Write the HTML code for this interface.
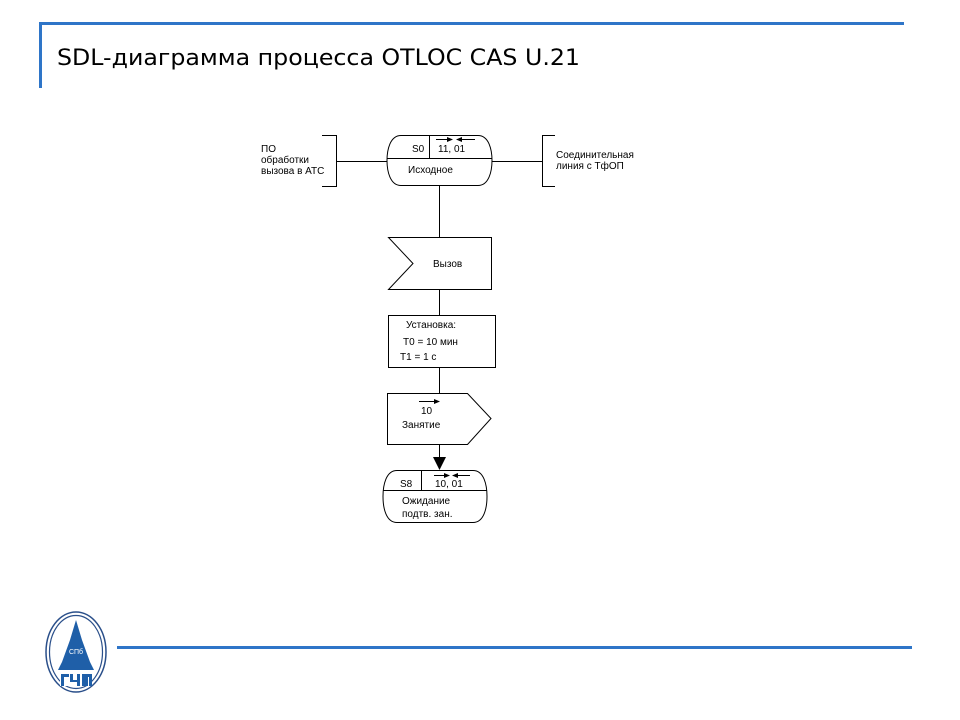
<!DOCTYPE html>
<html><head><meta charset="utf-8">
<style>
html,body{margin:0;padding:0;background:#fff;}
svg{display:block;}
text{font-family:"Liberation Sans","DejaVu Sans",sans-serif;fill:#000;}
</style></head>
<body>
<svg width="960" height="720" viewBox="0 0 960 720" xmlns="http://www.w3.org/2000/svg">
<rect width="960" height="720" fill="#fff"/>
<!-- header frame -->
<line x1="39" y1="23.5" x2="904" y2="23.5" stroke="#2e75c8" stroke-width="3"/>
<line x1="40.5" y1="22" x2="40.5" y2="88" stroke="#2e75c8" stroke-width="3"/>
<text x="57" y="65" font-size="22" textLength="523" lengthAdjust="spacingAndGlyphs" style="font-family:'DejaVu Sans','Liberation Sans',sans-serif">SDL-диаграмма процесса OTLOC CAS U.21</text>

<!-- bottom line -->
<line x1="117" y1="647.5" x2="912" y2="647.5" stroke="#2e75c8" stroke-width="3"/>

<!-- logo -->
<g>
<ellipse cx="76" cy="652" rx="30" ry="40" fill="#fff" stroke="#2a4f8a" stroke-width="1.5"/>
<ellipse cx="76" cy="652" rx="26.5" ry="36.5" fill="none" stroke="#2a4f8a" stroke-width="1.2"/>
<path d="M76 620 L70 640 L62 662 L58 670 L94 670 L90 662 L82 640 Z" fill="#1f5fa8"/>
<text x="76" y="654" font-size="7" text-anchor="middle" style="fill:#fff">СПб</text>
<rect x="60" y="672" width="32" height="14" fill="#fff"/>
<path d="M61 674 h8 v3 h-5 v9 h-3 Z M70 674 h3 v6 h4 v-6 h3 v12 h-3 v-4 h-7 Z M82 674 h10 v12 h-3 v-9 h-1 v9 h-3 v-9 h-0 v9 h-3 Z" fill="#1f5fa8"/>
</g>

<g stroke="#000" stroke-width="1" fill="none">
<!-- left bracket -->
<polyline points="322,135.5 336.5,135.5 336.5,186.5 322,186.5"/>
<line x1="336.5" y1="161.5" x2="387" y2="161.5"/>
<!-- right bracket -->
<polyline points="555,135.5 542.5,135.5 542.5,186.5 555,186.5"/>
<line x1="492" y1="161.5" x2="542.5" y2="161.5"/>

<!-- S0 state -->
<path d="M401 135.5 H478 C489 135.5 492 150 492 160.5 C492 171 489 185.5 478 185.5 H401 C390 185.5 387 171 387 160.5 C387 150 390 135.5 401 135.5 Z" fill="#fff"/>
<line x1="387.5" y1="158.5" x2="491.5" y2="158.5"/>
<line x1="429.5" y1="135.5" x2="429.5" y2="158.5"/>

<!-- lines -->
<line x1="439.5" y1="185.5" x2="439.5" y2="238"/>
<!-- input signal -->
<polygon points="388.5,237.5 491.5,237.5 491.5,289.5 388.5,289.5 413,263.5" fill="#fff"/>
<line x1="439.5" y1="289.5" x2="439.5" y2="315.5"/>
<!-- task -->
<rect x="388.5" y="315.5" width="107" height="52" fill="#fff"/>
<line x1="439.5" y1="367.5" x2="439.5" y2="393"/>
<!-- output signal -->
<polygon points="387.5,393.5 467.5,393.5 491,418.5 467.5,444.5 387.5,444.5" fill="#fff"/>
<line x1="439.5" y1="444.5" x2="439.5" y2="460"/>
<!-- S8 state -->
<path d="M397 470.5 H473 C484 470.5 487 485 487 496.5 C487 508 484 522.5 473 522.5 H397 C386 522.5 383 508 383 496.5 C383 485 386 470.5 397 470.5 Z" fill="#fff"/>
<line x1="383.5" y1="490.5" x2="486.5" y2="490.5"/>
<line x1="421.5" y1="470.5" x2="421.5" y2="490.5"/>

<!-- small arrows S0 -->
<line x1="436" y1="139.5" x2="450" y2="139.5"/>
<line x1="459" y1="139.5" x2="475" y2="139.5"/>
<!-- small arrows S8 -->
<line x1="434" y1="475.5" x2="447" y2="475.5"/>
<line x1="455" y1="475.5" x2="470" y2="475.5"/>
<!-- arrow over 10 -->
<line x1="419" y1="401.5" x2="436" y2="401.5"/>
</g>
<g fill="#000">
<polygon points="453,139.5 447,137 447,142"/>
<polygon points="456,139.5 462,137 462,142"/>
<polygon points="450,475.5 444,473 444,478"/>
<polygon points="452,475.5 458,473 458,478"/>
<polygon points="440,401.5 434,399 434,404"/>
<polygon points="439.5,470 433,457 446,457"/>
</g>

<g font-size="10">
<text x="261" y="152">ПО</text>
<text x="261" y="163">обработки</text>
<text x="261" y="174">вызова в АТС</text>
<text x="556" y="158">Соединительная</text>
<text x="556" y="169">линия с ТфОП</text>
<text x="412" y="152">S0</text>
<text x="438" y="152">11, 01</text>
<text x="408" y="173">Исходное</text>
<text x="433" y="267">Вызов</text>
<text x="406" y="328">Установка:</text>
<text x="403" y="345">T0 = 10 мин</text>
<text x="400" y="360">T1 = 1 с</text>
<text x="421" y="414">10</text>
<text x="402" y="428">Занятие</text>
<text x="400" y="487">S8</text>
<text x="435" y="487">10, 01</text>
<text x="402" y="504">Ожидание</text>
<text x="402" y="517">подтв. зан.</text>
</g>
</svg>
</body></html>
